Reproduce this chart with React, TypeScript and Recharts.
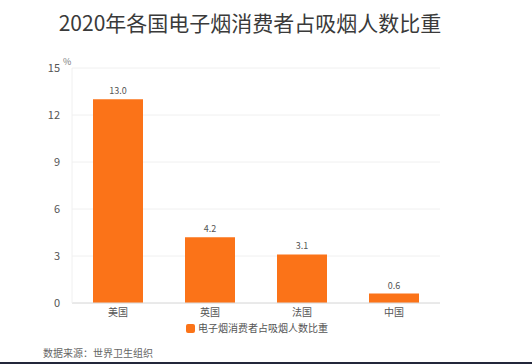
import { Bar, BarChart, CartesianGrid, LabelList, XAxis, YAxis } from "recharts";

const countries = ["美国", "英国", "法国", "中国"];
const shares = [13.0, 4.2, 3.1, 0.6];
const yTicks = [0, 3, 6, 9, 12, 15];
const seriesName = "电子烟消费者占吸烟人数比重";

const data = countries.map((c, i) => ({ country: c, share: shares[i] }));

const ORANGE = "#FB7318";
const FONT = '"Noto Sans CJK SC", "Noto Sans", sans-serif';

export default function App() {
  return (
    <div
      style={{
        position: "absolute",
        left: 0,
        top: 0,
        width: 532,
        height: 364,
        background: "#fff",
        fontFamily: FONT,
        overflow: "hidden",
      }}
    >
      <div
        style={{
          position: "absolute",
          top: 7,
          left: 0,
          width: 500,
          textAlign: "center",
          fontSize: 21,
          color: "#3a3a3a",
        }}
      >
        2020年各国电子烟消费者占吸烟人数比重
      </div>
      <div style={{ position: "absolute", left: 63, top: 55, fontSize: 9, color: "#777" }}>%</div>
      <BarChart
        width={532}
        height={364}
        data={data}
        margin={{ top: 68, right: 92, bottom: 41, left: 0 }}
        barSize={50}
      >
        <CartesianGrid stroke="#f0f0f0" vertical={false} />
        <XAxis
          dataKey="country"
          height={20}
          tickLine={false}
          axisLine={{ stroke: "#dcdcdc" }}
          tick={{ fill: "#555", fontSize: 10 }}
          tickMargin={0}
        />
        <YAxis
          width={72}
          domain={[0, 15]}
          ticks={yTicks}
          tickLine={false}
          axisLine={{ stroke: "#f0f0f0" }}
          tick={{ fill: "#555", fontSize: 11 }}
          tickMargin={6}
        />
        <Bar dataKey="share" fill={ORANGE} isAnimationActive={false}>
          <LabelList
            dataKey="share"
            position="top"
            offset={5}
            formatter={(v: number) => v.toFixed(1)}
            style={{ fill: "#555", fontSize: 9 }}
          />
        </Bar>
      </BarChart>
      <div
        style={{
          position: "absolute",
          left: 186,
          top: 322,
          display: "flex",
          alignItems: "center",
          fontSize: 10,
          lineHeight: "12px",
          color: "#555",
        }}
      >
        <span
          style={{
            display: "inline-block",
            width: 9,
            height: 9,
            borderRadius: 2,
            background: ORANGE,
            marginRight: 3,
          }}
        />
        {seriesName}
      </div>
      <div style={{ position: "absolute", left: 43, top: 347, fontSize: 10, lineHeight: "12px", color: "#666" }}>
        数据来源：世界卫生组织
      </div>
      <div
        style={{
          position: "absolute",
          left: 0,
          bottom: 0,
          width: 532,
          height: 2,
          background: "#23263a",
        }}
      />
    </div>
  );
}
